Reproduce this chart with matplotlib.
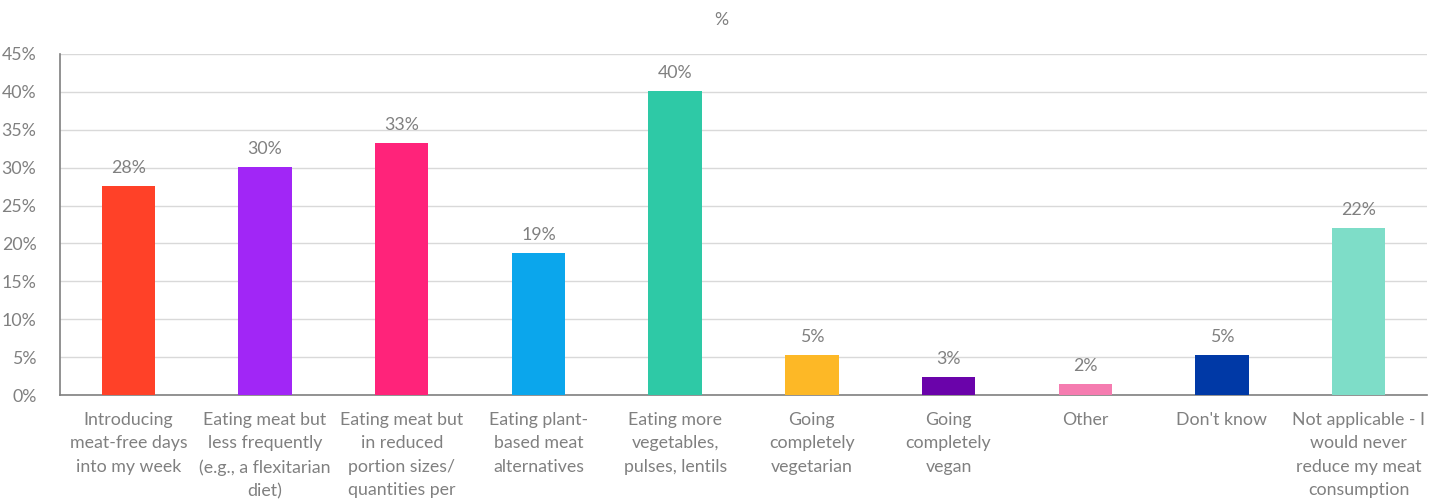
import matplotlib
matplotlib.use("Agg")
import matplotlib.pyplot as plt
from matplotlib.ticker import PercentFormatter

plt.rcParams['font.family'] = ['Lato', 'DejaVu Sans']

# data
categories = [
    "Introducing\nmeat-free days\ninto my week",
    "Eating meat but\nless frequently\n(e.g., a flexitarian\ndiet)",
    "Eating meat but\nin reduced\nportion sizes/\nquantities per",
    "Eating plant-\nbased meat\nalternatives",
    "Eating more\nvegetables,\npulses, lentils",
    "Going\ncompletely\nvegetarian",
    "Going\ncompletely\nvegan",
    "Other",
    "Don't know",
    "Not applicable - I\nwould never\nreduce my meat\nconsumption",
]
values = [27.6, 30.1, 33.3, 18.8, 40.1, 5.3, 2.4, 1.5, 5.3, 22.0]
labels = ["28%", "30%", "33%", "19%", "40%", "5%", "3%", "2%", "5%", "22%"]
colors = ["#FF4128", "#A126F6", "#FF237A", "#0BA6EC", "#2EC9A6",
          "#FDB826", "#6A03AA", "#F57CB0", "#0039A6", "#7EDDC8"]

grey = "#808080"

fig = plt.figure(figsize=(14.42, 5.03), dpi=100)
ax = fig.add_axes([0.0416, 0.2147, 0.948, 0.678])

x = range(len(categories))
bars = ax.bar(x, values, width=0.39, color=colors, zorder=3)

for b, lab in zip(bars, labels):
    ax.text(b.get_x() + b.get_width() / 2, b.get_height() + 1.3, lab,
            ha="center", va="bottom", color=grey, fontsize=12.8)

ax.set_xlim(-0.5, len(categories) - 0.5)
ax.set_ylim(0, 45)
ax.set_yticks(range(0, 46, 5))
ax.yaxis.set_major_formatter(PercentFormatter(decimals=0))
ax.grid(axis="y", color="#d9d9d9", linewidth=1, zorder=0)

ax.set_xticks(list(x))
ax.set_xticklabels(categories, fontsize=12.8, color=grey, linespacing=1.58, va="top")
ax.tick_params(axis="x", length=0, pad=12)
ax.tick_params(axis="y", length=0, pad=17, labelsize=12.8, labelcolor=grey)

for s in ["top", "right"]:
    ax.spines[s].set_visible(False)
for s in ["left", "bottom"]:
    ax.spines[s].set_color("#7f7f7f")
    ax.spines[s].set_linewidth(1.2)

fig.text(0.5, 0.96, "%", ha="center", va="center", color=grey, fontsize=12.8)

fig.savefig("out.png", dpi=100)
